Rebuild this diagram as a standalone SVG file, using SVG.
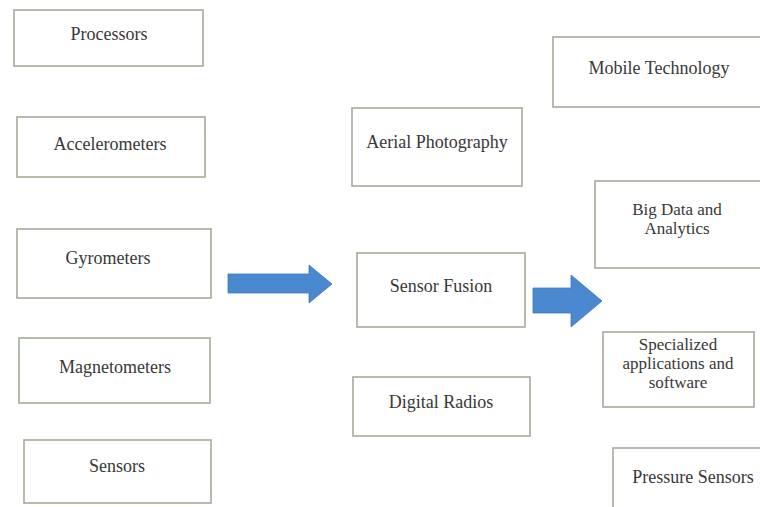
<svg xmlns="http://www.w3.org/2000/svg" width="760" height="507" viewBox="0 0 760 507">
<style>
.box{fill:#ffffff;stroke:#a2ad9a;stroke-width:1.6}
.lbl{font-family:"Liberation Serif","Times New Roman",serif;font-size:18px;fill:#383838;text-anchor:middle}
.ml{font-size:17px}
.arrow{fill:#4a88cf;stroke:#4079bd;stroke-width:0.8}
</style>
<rect width="760" height="507" fill="#ffffff"/>
<g id="connectors">
<polygon class="arrow" points="228,274 309,274 309,265 332,284 309,303 309,293 228,293"/>
<polygon class="arrow" points="533,288 571,288 571,275 602,301 571,327 571,313 533,313"/>
</g>
<g id="processors"><rect class="box" x="14" y="10" width="189" height="56"/><text class="lbl" x="109" y="40">Processors</text></g>
<g id="accelerometers"><rect class="box" x="17" y="117" width="188" height="60"/><text class="lbl" x="110" y="150">Accelerometers</text></g>
<g id="gyrometers"><rect class="box" x="17" y="229" width="194" height="69"/><text class="lbl" x="108" y="264">Gyrometers</text></g>
<g id="magnetometers"><rect class="box" x="19" y="338" width="191" height="65"/><text class="lbl" x="115" y="373">Magnetometers</text></g>
<g id="sensors"><rect class="box" x="24" y="440" width="187" height="63"/><text class="lbl" x="117" y="472">Sensors</text></g>
<g id="aerial-photography"><rect class="box" x="352" y="108" width="170" height="78"/><text class="lbl" x="437" y="148">Aerial Photography</text></g>
<g id="sensor-fusion"><rect class="box" x="357" y="253" width="168" height="74"/><text class="lbl" x="441" y="292">Sensor Fusion</text></g>
<g id="digital-radios"><rect class="box" x="353" y="377" width="177" height="59"/><text class="lbl" x="441" y="408">Digital Radios</text></g>
<g id="mobile-technology"><rect class="box" x="553" y="37" width="210" height="70"/><text class="lbl" x="659" y="74">Mobile Technology</text></g>
<g id="big-data"><rect class="box" x="595" y="181" width="168" height="87"/><text class="lbl ml" x="677" y="215">Big Data and</text><text class="lbl ml" x="677" y="234">Analytics</text></g>
<g id="specialized"><rect class="box" x="603" y="332" width="151" height="75"/><text class="lbl ml" x="678" y="350">Specialized</text><text class="lbl ml" x="678" y="369">applications and</text><text class="lbl ml" x="678" y="388">software</text></g>
<g id="pressure-sensors"><rect class="box" x="613" y="448" width="150" height="65"/><text class="lbl" x="693" y="483">Pressure Sensors</text></g>
</svg>
